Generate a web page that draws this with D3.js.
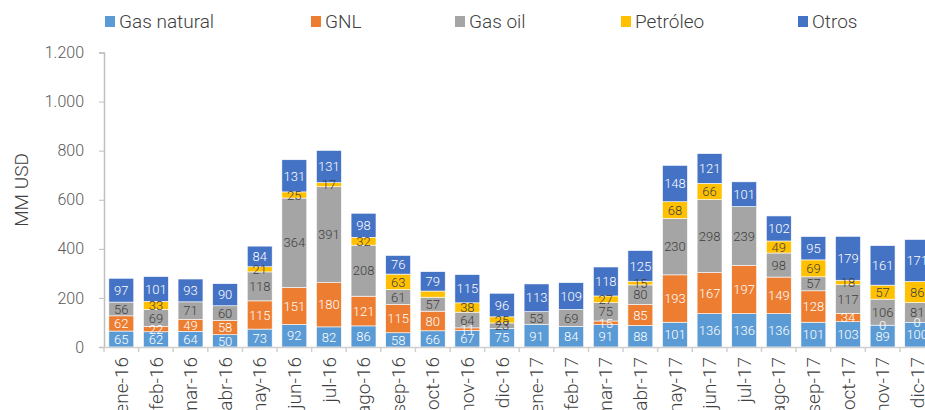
<!DOCTYPE html>
<html>
<head>
<meta charset="utf-8">
<script src="https://cdn.jsdelivr.net/npm/d3@7"></script>
<style>
  body { margin: 0; background: #fff; }
  svg { display: block; font-family: Roboto, "Noto Sans", sans-serif; font-weight: 300; }
</style>
</head>
<body>
<svg></svg>
<script>
// data
const months = ['ene-16','feb-16','mar-16','abr-16','may-16','jun-16','jul-16','ago-16','sep-16','oct-16','nov-16','dic-16',
                'ene-17','feb-17','mar-17','abr-17','may-17','jun-17','jul-17','ago-17','sep-17','oct-17','nov-17','dic-17'];
const seriesNames = ['Gas natural', 'GNL', 'Gas oil', 'Petróleo', 'Otros'];
const gasNatural = [65, 62, 64, 50, 73, 92, 82, 86, 58, 66, 67, 75, 91, 84, 91, 88, 101, 136, 136, 136, 101, 103, 89, 100];
const gnl        = [62, 22, 49, 58, 115, 151, 180, 121, 115, 80, 11, null, null, null, 15, 85, 193, 167, 197, 149, 128, 34, 0, 0];
const gasOil     = [56, 69, 71, 60, 118, 364, 391, 208, 61, 57, 64, 23, 53, 69, 75, 80, 230, 298, 239, 98, 57, 117, 106, 81];
const petroleo   = [null, 33, null, null, 21, 25, 17, 32, 63, 25, 38, 25, null, null, 27, 15, 68, 66, null, 49, 69, 18, 57, 86];
const otros      = [97, 101, 93, 90, 84, 131, 131, 98, 76, 79, 115, 96, 113, 109, 118, 125, 148, 121, 101, 102, 95, 179, 161, 171];
const yTicks = [0, 200, 400, 600, 800, 1000, 1200];
const hiddenLabels = [['oct-16', 'Petróleo']];

const colors = ['#5B9BD5', '#ED7D31', '#A5A5A5', '#FFC000', '#4472C4'];
const labelColors = ['#ffffff', '#ffffff', '#404040', '#404040', '#ffffff'];
const legendX = [105, 311, 455, 621, 798];

let width = 925, height = 410;
let svg = d3.select('svg').attr('width', width).attr('height', height);

let allSeries = [gasNatural, gnl, gasOil, petroleo, otros];
let rows = months.map((m, i) => {
  let r = { month: m };
  seriesNames.forEach((s, j) => r[s] = allSeries[j][i] == null ? 0 : allSeries[j][i]);
  return r;
});

let x = d3.scaleBand().domain(months).range([104, 934.5]).paddingInner(0.28).paddingOuter(0.14);
let y = d3.scaleLinear().domain([0, 1200]).range([347, 52.5]);

let stacked = d3.stack().keys(seriesNames)(rows);

// bars
let groups = svg.append('g').selectAll('g')
  .data(stacked)
  .enter()
  .append('g')
    .attr('fill', (d, i) => colors[i]);

groups.selectAll('rect')
  .data(d => d.filter((p, i) => allSeries[d.index][i] != null))
  .enter()
  .append('rect')
    .attr('x', d => x(d.data.month))
    .attr('width', x.bandwidth())
    .attr('y', d => y(d[1]))
    .attr('height', d => y(d[0]) - y(d[1]))
    .attr('stroke', '#ffffff')
    .attr('stroke-width', 0.6);

// data labels
let isHidden = (m, s) => hiddenLabels.some(h => h[0] === m && h[1] === s);
stacked.forEach((layer, k) => {
  svg.append('g').selectAll('text')
    .data(layer.filter((p, i) => allSeries[k][i] != null && !isHidden(p.data.month, layer.key)))
    .enter()
    .append('text')
      .attr('x', d => x(d.data.month) + x.bandwidth() / 2)
      .attr('y', d => (y(d[0]) + y(d[1])) / 2)
      .attr('dy', '0.36em')
      .attr('text-anchor', 'middle')
      .attr('font-size', 13)
      .attr('fill', labelColors[k])
      .text(d => d[1] - d[0]);
});

// y axis
let locale = d3.formatLocale({ decimal: ',', thousands: '.', grouping: [3], currency: ['', ''] });
let yAxis = svg.append('g')
  .attr('transform', 'translate(104,0)')
  .call(d3.axisLeft(y).tickValues(yTicks).tickSize(5).tickPadding(15).tickFormat(locale.format(',')));
yAxis.select('.domain').attr('stroke', '#bfbfbf').attr('stroke-width', 1.5);
yAxis.selectAll('.tick line').attr('stroke', '#bfbfbf');
yAxis.selectAll('.tick text').attr('font-size', 16).attr('fill', '#595959').attr('font-family', 'Roboto');

svg.append('text')
  .attr('transform', 'translate(21,190) rotate(-90)')
  .attr('text-anchor', 'middle')
  .attr('dy', '0.35em')
  .attr('font-size', 19)
  .attr('fill', '#404040')
  .text('MM USD');

// x axis: line, ticks between categories, rotated labels
let xAxis = svg.append('g');
xAxis.append('line')
  .attr('x1', 104).attr('x2', 934.5)
  .attr('y1', 347.5).attr('y2', 347.5)
  .attr('stroke', '#d0d0d0').attr('stroke-width', 1.5);
let step = x.step();
xAxis.selectAll('line.tk')
  .data(months.concat(['end']))
  .enter()
  .append('line')
    .classed('tk', true)
    .attr('x1', (d, i) => 104 + step * i)
    .attr('x2', (d, i) => 104 + step * i)
    .attr('y1', 347).attr('y2', 352)
    .attr('stroke', '#d0d0d0').attr('stroke-width', 1.5);
xAxis.selectAll('text')
  .data(months)
  .enter()
  .append('text')
    .attr('transform', d => 'translate(' + (x(d) + x.bandwidth() / 2) + ',357) rotate(-90)')
    .attr('text-anchor', 'end')
    .attr('dy', '0.35em')
    .attr('font-size', 19)
    .attr('fill', '#404040')
    .text(d => d);

// legend
let legend = svg.append('g').selectAll('g')
  .data(seriesNames)
  .enter()
  .append('g')
    .attr('transform', (d, i) => 'translate(' + legendX[i] + ',0)');
legend.append('rect')
  .attr('x', 0).attr('y', 16)
  .attr('width', 10).attr('height', 11)
  .attr('fill', (d, i) => colors[i]);
legend.append('text')
  .attr('x', 14).attr('y', 21)
  .attr('dy', '0.35em')
  .attr('font-size', 19)
  .attr('fill', '#404040')
  .text(d => d);
</script>
</body>
</html>
